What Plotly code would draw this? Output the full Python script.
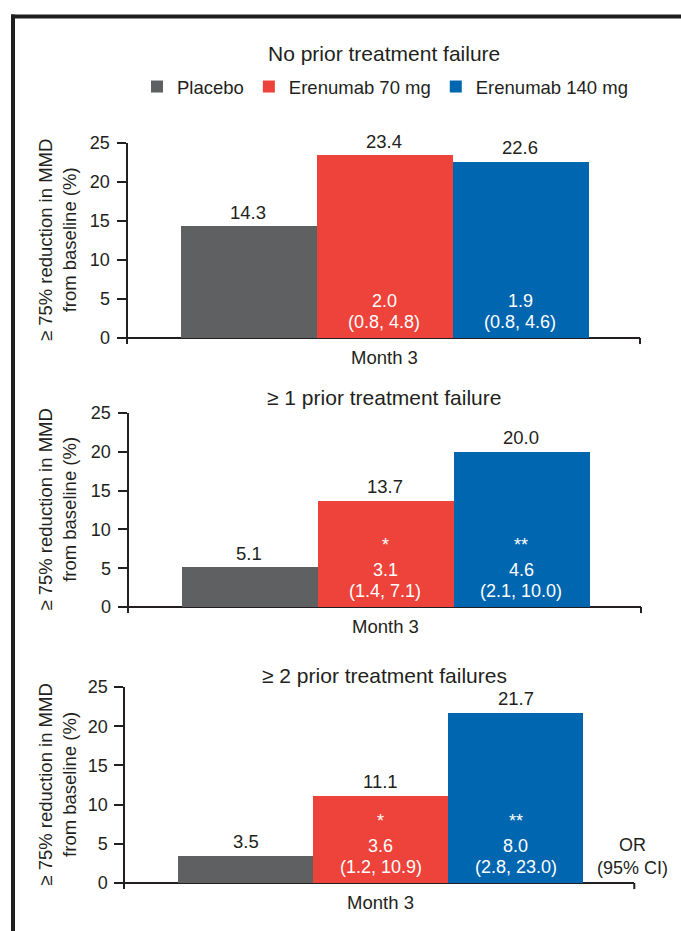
import plotly.graph_objects as go

# ---- data -------------------------------------------------------------
groups = ["Placebo", "Erenumab 70 mg", "Erenumab 140 mg"]
colors = ["#5f6062", "#ee433a", "#0066b0"]
panel_titles = [
    "No prior treatment failure",
    "≥ 1 prior treatment failure",
    "≥ 2 prior treatment failures",
]
placebo = [14.3, 5.1, 3.5]
erenumab70 = [23.4, 13.7, 11.1]
erenumab140 = [22.6, 20.0, 21.7]

or70 = ["2.0", "3.1", "3.6"]
ci70 = ["(0.8, 4.8)", "(1.4, 7.1)", "(1.2, 10.9)"]
sig70 = ["", "*", "*"]
or140 = ["1.9", "4.6", "8.0"]
ci140 = ["(0.8, 4.6)", "(2.1, 10.0)", "(2.8, 23.0)"]
sig140 = ["", "**", "**"]

x_label = "Month 3"
y_title = "≥ 75% reduction in MMD<br>from baseline (%)"
y_ticks = [0, 5, 10, 15, 20, 25]

# ---- geometry (pixels) -------------------------------------------------
W, H = 681, 931
FONT = "Liberation Sans, Arial, sans-serif"
TXT = "#231f20"

# (left, right, top, bottom) of each plotting area in pixels
areas = [
    (127.5, 640.0, 143.0, 344.2),
    (128.5, 641.0, 413.0, 613.2),
    (125.4, 634.3, 687.0, 889.3),
]
title_y = [53, 398, 675]
x_range = [0.11, 3.88]
y_range = [-0.8, 25]


def px_x(v):
    return v / W


def px_y(v):
    return 1 - v / H


fig = go.Figure()
series = [placebo, erenumab70, erenumab140]
annotations = []
shapes = []

for p in range(3):
    sfx = "" if p == 0 else str(p + 1)
    xa, ya = "x" + sfx, "y" + sfx
    left, right, top, bottom = areas[p]

    for g in range(3):
        fig.add_trace(go.Bar(
            x=[g + 1], y=[series[g][p]], width=1,
            name=groups[g], legendgroup=groups[g], showlegend=(p == 0),
            marker=dict(color=colors[g], line=dict(width=0)),
            xaxis=xa, yaxis=ya, hoverinfo="skip",
        ))
        # value above each bar
        annotations.append(dict(
            x=g + 1, y=series[g][p], xref=xa, yref=ya,
            text=f"{series[g][p]:.1f}", showarrow=False,
            yanchor="middle", yshift=14,
            font=dict(family=FONT, size=18.5, color=TXT),
        ))

    # odds ratios inside the active-treatment bars
    for g, (orv, ci, sig) in ((1, (or70, ci70, sig70)), (2, (or140, ci140, sig140))):
        rows = [(ci[p], 16), (orv[p], 37)]
        if sig[p]:
            rows.append((sig[p], 62))
        for txt, dy in rows:
            annotations.append(dict(
                x=g + 1, y=0, xref=xa, yref=ya, text=txt, showarrow=False,
                yanchor="middle", yshift=dy,
                font=dict(family=FONT, size=18, color="white"),
            ))

    # panel title
    annotations.append(dict(
        x=px_x(384), y=px_y(title_y[p]), xref="paper", yref="paper",
        text=panel_titles[p], showarrow=False,
        xanchor="center", yanchor="middle",
        font=dict(family=FONT, size=21, color=TXT),
    ))
    # y-axis title
    annotations.append(dict(
        x=px_x(57.5), y=px_y((top + bottom - 6) / 2), xref="paper", yref="paper",
        text=y_title, showarrow=False, textangle=-90,
        xanchor="center", yanchor="middle",
        font=dict(family=FONT, size=18.5, color=TXT),
    ))
    # small end tick at the right end of the category axis
    shapes.append(dict(
        type="line", xref=xa + " domain", yref=ya,
        x0=1, x1=1, y0=0, y1=y_range[0],
        line=dict(color=TXT, width=2),
    ))

    fig.update_layout(**{
        "xaxis" + sfx: dict(
            domain=[px_x(left), px_x(right)], range=x_range, anchor=ya,
            showline=False, showgrid=False, zeroline=False, automargin=False,
            tickvals=[2], ticktext=[x_label], ticks="",
            tickfont=dict(family=FONT, size=18.5, color=TXT),
            fixedrange=True,
        ),
        "yaxis" + sfx: dict(
            domain=[px_y(bottom), px_y(top)], range=y_range, anchor=xa,
            showline=True, linecolor=TXT, linewidth=2, automargin=False,
            showgrid=False, zeroline=True, zerolinecolor=TXT, zerolinewidth=2,
            tickvals=y_ticks, ticks="outside", ticklen=9, tickwidth=2,
            tickcolor=TXT, ticklabelstandoff=3,
            tickfont=dict(family=FONT, size=18, color=TXT),
            fixedrange=True,
        ),
    })

# outer frame (top and left rules)
shapes.append(dict(type="line", xref="paper", yref="paper",
                   x0=px_x(11), x1=1.0, y0=px_y(16.5), y1=px_y(16.5),
                   line=dict(color="#1e1e1e", width=4)))
shapes.append(dict(type="line", xref="paper", yref="paper",
                   x0=px_x(13), x1=px_x(13), y0=px_y(14.5), y1=0,
                   line=dict(color="#1e1e1e", width=4)))

# note at the right of the last panel
annotations.append(dict(
    x=3.87, y=0, xref="x3", yref="y3", text="OR<br>(95% CI)",
    showarrow=False, xanchor="center", yanchor="bottom", yshift=3,
    font=dict(family=FONT, size=18, color=TXT),
))

fig.update_layout(
    width=W, height=H,
    margin=dict(l=0, r=0, t=0, b=0, pad=0, autoexpand=False),
    paper_bgcolor="white", plot_bgcolor="white",
    barmode="overlay", bargap=0,
    showlegend=True,
    legend=dict(
        orientation="h", x=px_x(385), xanchor="center",
        y=px_y(87), yanchor="middle",
        font=dict(family=FONT, size=18.5, color=TXT),
        itemclick=False, itemdoubleclick=False,
        bgcolor="rgba(0,0,0,0)", tracegroupgap=0,
    ),
    annotations=annotations,
    shapes=shapes,
)

fig.write_html("out.html")
